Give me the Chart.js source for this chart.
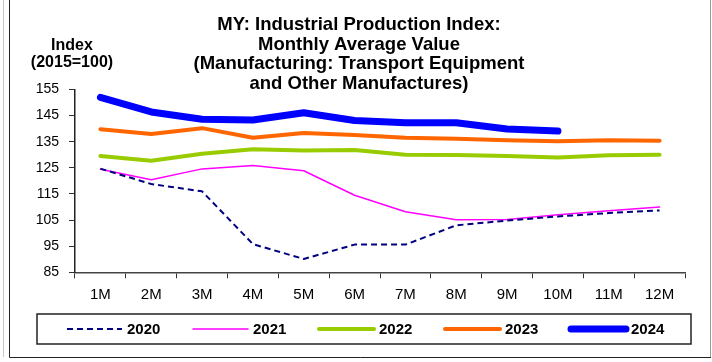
<!DOCTYPE html>
<html lang="en">
<head>
    <meta charset="UTF-8">
    <title>MY: Industrial Production Index - Transport Equipment</title>
    <style>
        html, body { margin: 0; padding: 0; background: #fff; }
        #wrap { position: relative; width: 712px; height: 362px; }
    </style>
</head>
<body>
    <div id="wrap">
        <canvas id="myChart" width="712" height="362"></canvas>
    </div>
    <script src="https://cdn.jsdelivr.net/npm/chart.js@4.4.1/dist/chart.umd.min.js"></script>
    <script>
        // monthly index values, 2015 = 100
        var months = ['1M', '2M', '3M', '4M', '5M', '6M', '7M', '8M', '9M', '10M', '11M', '12M'];
        var years = ['2020', '2021', '2022', '2023', '2024'];
        var v2020 = [124.7, 118.8, 116.0, 95.8, 90.1, 95.6, 95.6, 103.0, 104.8, 106.4, 107.7, 108.7];
        var v2021 = [124.5, 120.4, 124.6, 125.9, 123.9, 114.5, 108.2, 105.1, 105.2, 107.0, 108.6, 110.0];
        var v2022 = [129.5, 127.7, 130.4, 132.1, 131.6, 131.8, 130.0, 129.9, 129.5, 129.0, 129.8, 130.0];
        var v2023 = [139.8, 138.0, 140.2, 136.5, 138.3, 137.6, 136.5, 136.1, 135.6, 135.2, 135.6, 135.4];
        var v2024 = [152.0, 146.4, 143.6, 143.3, 146.1, 143.1, 142.3, 142.3, 139.9, 139.1];
        var yTicks = [85, 95, 105, 115, 125, 135, 145, 155];

        var titleLines = [
            'MY: Industrial Production Index:',
            'Monthly Average Value',
            '(Manufacturing: Transport Equipment',
            'and Other Manufactures)'
        ];

        var FONT = "'Liberation Sans', Arial, sans-serif";
        Chart.defaults.font.family = FONT;
        Chart.defaults.color = '#000';

        function line(label, data, color, width, dash) {
            return {
                label: label,
                data: data,
                borderColor: color,
                backgroundColor: color,
                borderWidth: width,
                borderDash: dash || [],
                borderCapStyle: dash ? 'butt' : 'round',
                borderJoinStyle: 'round',
                pointRadius: 0,
                tension: 0,
                fill: false
            };
        }

        // title, axis caption, boxed legend and outer frame
        var decor = {
            id: 'decor',
            afterDraw: function (chart) {
                var ctx = chart.ctx;
                ctx.save();
                ctx.fillStyle = '#000';
                ctx.textAlign = 'center';
                ctx.textBaseline = 'alphabetic';
                ctx.font = 'bold 18.5px ' + FONT;
                for (var i = 0; i < titleLines.length; i++) {
                    ctx.fillText(titleLines[i], 359, 30 + i * 19.5);
                }
                ctx.font = 'bold 16px ' + FONT;
                ctx.fillText('Index', 72, 50);
                ctx.fillText('(2015=100)', 72, 67);

                // legend: one line sample + label per dataset
                ctx.strokeStyle = '#222';
                ctx.lineWidth = 1.5;
                ctx.strokeRect(37, 314, 654, 30);
                ctx.font = 'bold 15px ' + FONT;
                ctx.textAlign = 'left';
                ctx.textBaseline = 'middle';
                chart.data.datasets.forEach(function (ds, k) {
                    var x0 = 67 + k * 126;
                    ctx.save();
                    ctx.strokeStyle = ds.borderColor;
                    ctx.lineWidth = ds.borderWidth;
                    ctx.lineCap = ds.borderCapStyle;
                    ctx.setLineDash(ds.borderDash);
                    ctx.beginPath();
                    ctx.moveTo(x0, 329);
                    ctx.lineTo(x0 + 55, 329);
                    ctx.stroke();
                    ctx.restore();
                    ctx.fillText(ds.label, x0 + 60, 329.5);
                });

                // outer frame
                ctx.lineWidth = 1;
                ctx.setLineDash([]);
                ctx.strokeStyle = '#c8c8d0';
                ctx.beginPath();
                ctx.moveTo(3.5, 0); ctx.lineTo(3.5, 357);
                ctx.stroke();
                ctx.strokeStyle = '#999';
                ctx.beginPath();
                ctx.moveTo(710.5, 0); ctx.lineTo(710.5, 358);
                ctx.stroke();
                ctx.strokeStyle = '#222';
                ctx.beginPath();
                ctx.moveTo(9.5, 0); ctx.lineTo(9.5, 357.5); ctx.lineTo(711, 357.5);
                ctx.stroke();
                ctx.restore();
            }
        };

        var ctx = document.getElementById('myChart').getContext('2d');
        var myChart = new Chart(ctx, {
            type: 'line',
            data: {
                labels: months,
                datasets: [
                    line(years[0], v2020, '#000080', 2, [6, 4]),
                    line(years[1], v2021, '#ff00ff', 1.5),
                    line(years[2], v2022, '#99cc00', 4),
                    line(years[3], v2023, '#ff6600', 4),
                    line(years[4], v2024, '#0000ff', 7)
                ]
            },
            options: {
                responsive: false,
                animation: false,
                layout: {
                    padding: { top: 89.5, right: 27, bottom: 57.7, left: 0 }
                },
                plugins: {
                    title: { display: false },
                    tooltip: { enabled: false },
                    legend: { display: false }
                },
                scales: {
                    x: {
                        offset: true,
                        grid: {
                            offset: true,
                            drawOnChartArea: false,
                            drawTicks: true,
                            tickLength: 6,
                            color: '#333'
                        },
                        border: { color: '#444', width: 1.5 },
                        ticks: { padding: 8, font: { size: 15 }, color: '#000', maxRotation: 0 },
                        afterFit: function (scale) { scale.height = 32; }
                    },
                    y: {
                        min: yTicks[0],
                        max: yTicks[yTicks.length - 1],
                        afterBuildTicks: function (scale) {
                            scale.ticks = yTicks.map(function (v) { return { value: v }; });
                        },
                        grid: {
                            drawOnChartArea: false,
                            drawTicks: true,
                            tickLength: 6,
                            color: '#333'
                        },
                        border: { color: '#222', width: 1.5 },
                        ticks: { padding: 10, font: { size: 14 }, color: '#000' },
                        afterFit: function (scale) { scale.width = 75; }
                    }
                }
            },
            plugins: [decor]
        });
    </script>
</body>
</html>
